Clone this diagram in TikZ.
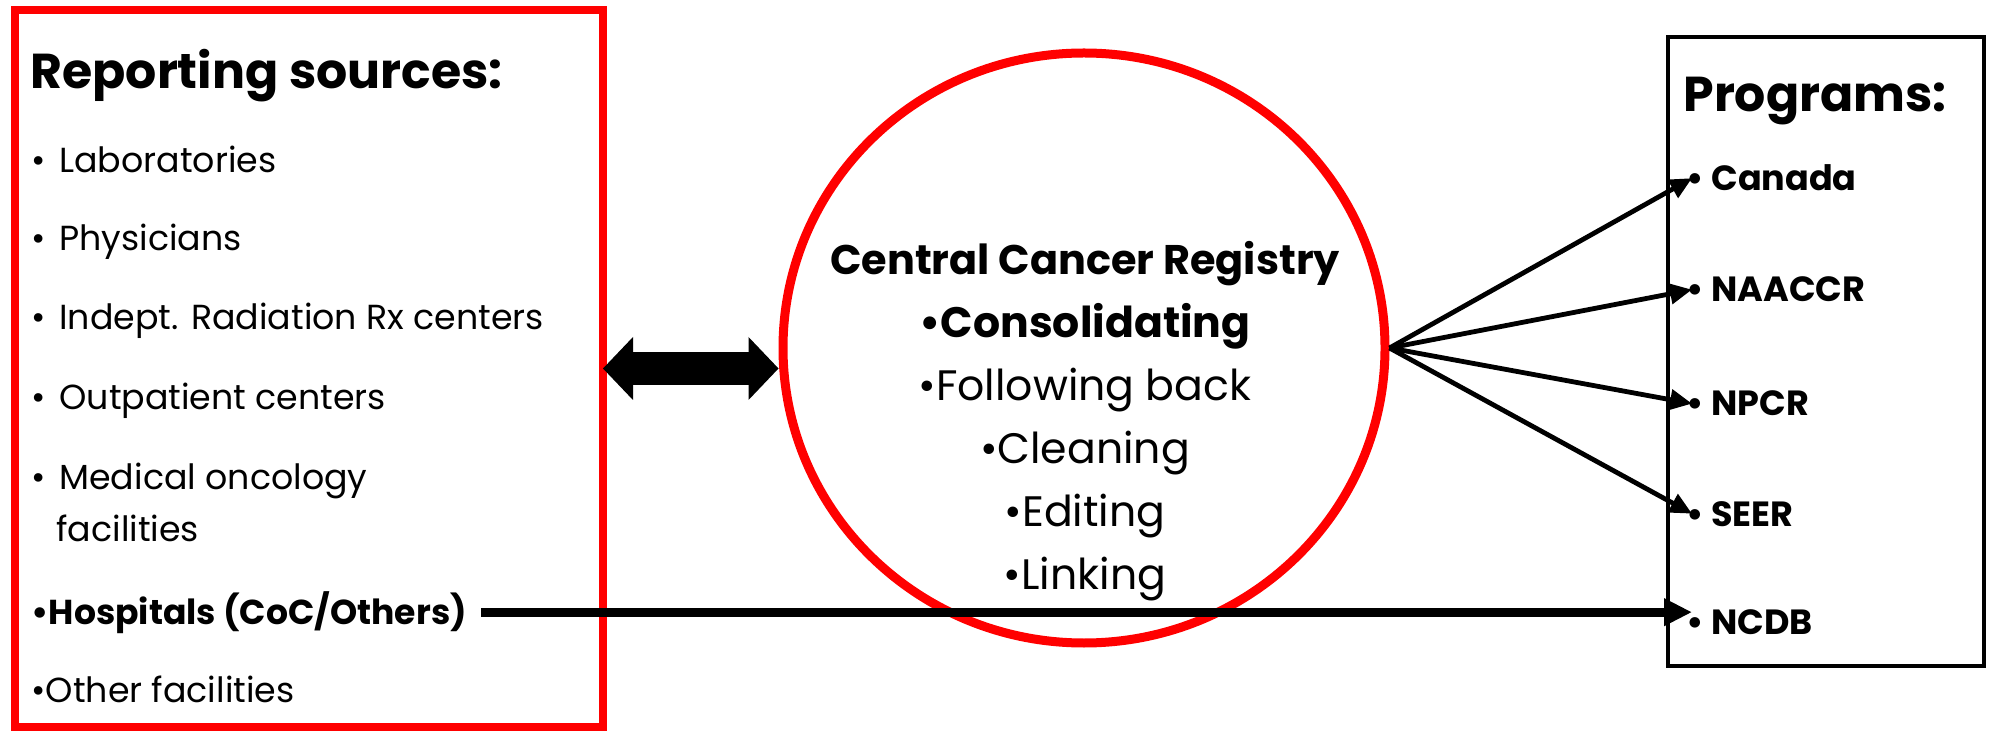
\documentclass[tikz,border=0pt]{standalone}
\usepackage{fontspec}
\setmainfont{Poppins}
\usetikzlibrary{arrows.meta}
\usetikzlibrary{shapes.geometric}
\usetikzlibrary{positioning}
\tikzset{
  flecha/.style={
    line width=2.4pt,
    -{Triangle[length=11pt, width=10pt]}
  }
}
\newcommand{\vineta}{\makebox[14pt][l]{\textbullet}}

\begin{document}
\begin{tikzpicture}[x=0.5pt, y=-0.5pt, inner sep=0pt] % Estilos de nodos
\tikzstyle{titulo} = [anchor=base west, font=\bfseries\fontsize{24.5}{28}\selectfont]
\tikzstyle{fuente} = [anchor=base west, font=\fontsize{17.4}{20}\selectfont]
\tikzstyle{programa} = [anchor=base west, font=\bfseries\fontsize{17.5}{20}\selectfont]
\useasboundingbox (0,0) rectangle (1990,731);
% Caja de fuentes
\node (src) [rectangle, draw=red, line width=4pt, outer sep=0pt, minimum width=294pt, minimum height=358.5pt, anchor=north west] at (15,10) {};
\node (tsrc) [titulo] at (30,89) {Reporting sources:};
\node (lab) [fuente] at (31,173) {\vineta Laboratories};
\node (phy) [fuente] at (31,251) {\vineta Physicians};
\node (rad) [fuente] at (31,330) {\vineta Indept. Radiation Rx centers};
\node (out) [fuente] at (31,410) {\vineta Outpatient centers};
\node (med) [fuente] at (31,490) {\vineta Medical oncology};
\node (fac) [fuente] at (56,541) {facilities};
\node (hosp) [fuente, font=\bfseries\fontsize{17.3}{20}\selectfont] at (31,624) {\textbullet Hospitals (CoC/Others)};
\node (oth) [fuente] at (31,702) {\textbullet Other facilities};
% Registro central
\node (ccr) [ellipse, draw=red, line width=4.5pt, minimum width=301pt, minimum height=295pt] at (1084,348) {};
\node (ccrtxt) [align=center, font=\fontsize{21.3}{31.5}\selectfont] at (1085,421) {\textbf{\fontsize{20.7}{31.5}\selectfont Central Cancer Registry}\\ \textbf{\textbullet Consolidating}\\ \textbullet Following back\\ \textbullet Cleaning\\ \textbullet Editing\\ \textbullet Linking};
% Programas
\node (prog) [rectangle, draw, line width=2.2pt, minimum width=158pt, minimum height=314.5pt, anchor=north west] at (1666,35) {};
\node (tprog) [titulo] at (1683,112) {Programs:};
\node (pr1) [programa] at (1686,191) {\textbullet\ Canada};
\node (pr2) [programa] at (1686,302) {\textbullet\ NAACCR};
\node (pr3) [programa] at (1686,416) {\textbullet\ NPCR};
\node (pr4) [programa] at (1686,526) {\textbullet\ SEER};
\node (pr5) [programa] at (1686,634) {\textbullet\ NCDB};
% Flechas
\draw[line width=16.5pt, {Triangle[length=15pt, width=31.5pt, line width=0pt]}-{Triangle[length=15pt, width=31.5pt, line width=0pt]}] (src.east) -- (src.east -| ccr.west);
\foreach \i in {1,2,3,4}{ \draw[flecha] (ccr.east) -- ([xshift=3pt]pr\i.west); }
\draw[line width=4.5pt, -{Triangle[length=14pt, width=13pt]}] ([xshift=7pt]hosp.east) -- ([xshift=3pt]hosp.east -| pr5.west);
\end{tikzpicture}
\end{document}
